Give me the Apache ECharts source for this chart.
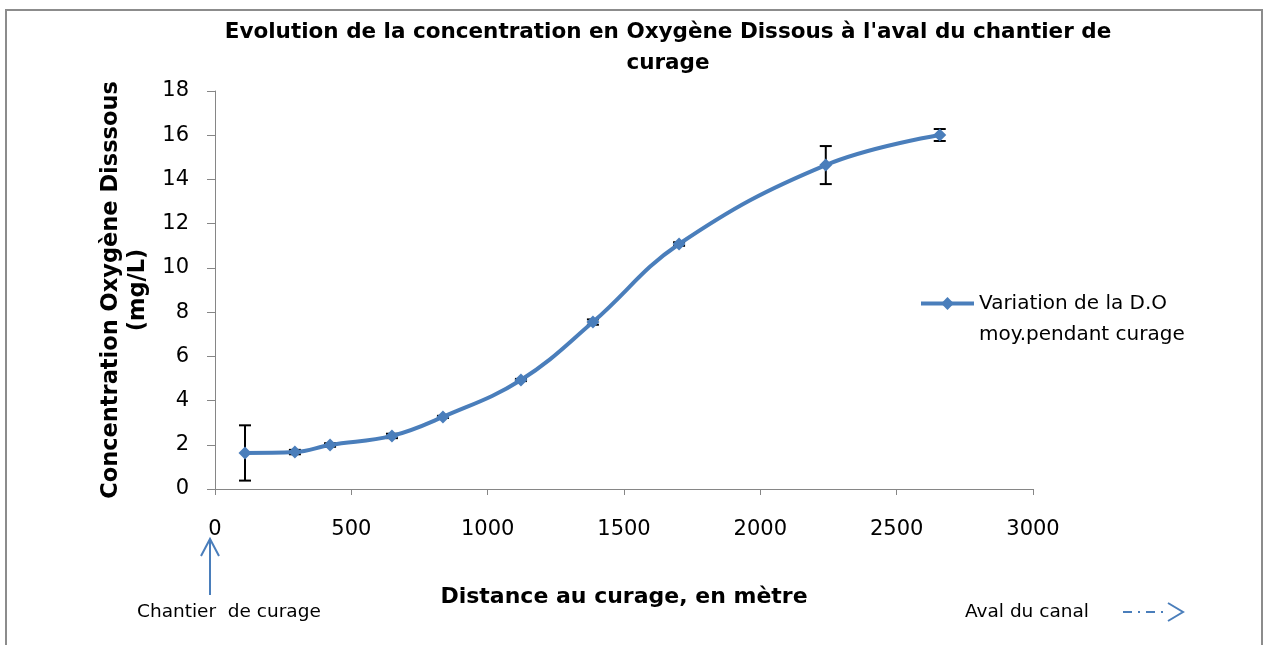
<!DOCTYPE html>
<html>
<head>
<meta charset="utf-8">
<script src="https://cdn.jsdelivr.net/npm/echarts@6/dist/echarts.min.js"></script>
<style>
html,body{margin:0;padding:0;background:#fff;}
#chart{width:1264px;height:645px;}
</style>
</head>
<body>
<div id="chart"></div>
<script>
// Data
const distances = [110, 293, 422, 649, 836, 1122, 1386, 1702, 2240, 2658];
const oxygen = [1.63, 1.67, 1.99, 2.40, 3.26, 4.93, 7.55, 11.08, 14.65, 16.01];
const errors = [1.25, 0.1, 0.08, 0.1, 0.05, 0.05, 0.12, 0.08, 0.86, 0.27];
const yTicks = [0, 2, 4, 6, 8, 10, 12, 14, 16, 18];
const xTicks = [0, 500, 1000, 1500, 2000, 2500, 3000];
const seriesName = 'Variation de la D.O moy.pendant curage';

const lineData = distances.map((d, i) => [d, oxygen[i]]);
const errData = distances.map((d, i) => [d, oxygen[i] - errors[i], oxygen[i] + errors[i]]);

const FONT = 'DejaVu Sans, Liberation Sans, sans-serif';
const BLUE = '#4a7ebb';

const chart = echarts.init(document.getElementById('chart'));
chart.setOption({
  backgroundColor: '#ffffff',
  animation: false,
  textStyle: { fontFamily: FONT },
  title: {
    text: "Evolution de la concentration en Oxygène Dissous à l'aval du chantier de\ncurage",
    left: 663,
    top: 12,
    textAlign: 'center',
    textStyle: { fontFamily: FONT, fontSize: 21.5, fontWeight: 'bold', color: '#000', lineHeight: 31 }
  },
  grid: { left: 215, right: 231, top: 91, bottom: 156, containLabel: false },
  legend: {
    data: [seriesName],
    left: 914,
    top: 252,
    itemWidth: 53,
    itemHeight: 16,
    lineStyle: { width: 4 },
    formatter: function () { return '\nVariation de la D.O\nmoy.pendant curage'; },
    textStyle: { fontFamily: FONT, fontSize: 20, color: '#000', lineHeight: 31 }
  },
  xAxis: {
    type: 'value',
    min: xTicks[0],
    max: xTicks[xTicks.length - 1],
    interval: 500,
    name: 'Distance au curage, en mètre',
    nameLocation: 'middle',
    nameGap: 97,
    nameTextStyle: { fontFamily: FONT, fontSize: 22, fontWeight: 'bold', color: '#000' },
    axisLine: { show: true, lineStyle: { color: '#868686', width: 1 } },
    axisTick: { show: true, length: 6, lineStyle: { color: '#868686' } },
    axisLabel: { fontFamily: FONT, fontSize: 21, color: '#000', margin: 30, formatter: function (v) { return String(v); } },
    splitLine: { show: false }
  },
  yAxis: {
    type: 'value',
    min: yTicks[0],
    max: yTicks[yTicks.length - 1],
    interval: 2,
    name: 'Concentration Oxygène Disssous\n(mg/L)',
    nameLocation: 'middle',
    nameGap: 62,
    nameTextStyle: { fontFamily: FONT, fontSize: 22.5, fontWeight: 'bold', color: '#000', lineHeight: 27 },
    axisLine: { show: true, lineStyle: { color: '#868686', width: 1 } },
    axisTick: { show: true, length: 8, lineStyle: { color: '#868686' } },
    axisLabel: { fontFamily: FONT, fontSize: 21, color: '#000', margin: 26 },
    splitLine: { show: false }
  },
  series: [
    {
      type: 'custom',
      name: 'errors',
      z: 1,
      silent: true,
      data: errData,
      encode: { x: 0, y: [1, 2] },
      renderItem: function (params, api) {
        const x = api.value(0);
        const lo = api.coord([x, api.value(1)]);
        const hi = api.coord([x, api.value(2)]);
        const cap = 6;
        const st = { stroke: '#000', lineWidth: 2 };
        return {
          type: 'group',
          children: [
            { type: 'line', shape: { x1: lo[0], y1: lo[1], x2: hi[0], y2: hi[1] }, style: st },
            { type: 'line', shape: { x1: lo[0] - cap, y1: lo[1], x2: lo[0] + cap, y2: lo[1] }, style: st },
            { type: 'line', shape: { x1: hi[0] - cap, y1: hi[1], x2: hi[0] + cap, y2: hi[1] }, style: st }
          ]
        };
      }
    },
    {
      type: 'line',
      name: seriesName,
      z: 2,
      data: lineData,
      smooth: 0.4,
      symbol: 'diamond',
      symbolSize: 13,
      lineStyle: { color: BLUE, width: 4 },
      itemStyle: { color: BLUE }
    }
  ],
  graphic: [
    { type: 'rect', silent: true, shape: { x: 6, y: 10, width: 1256, height: 700 },
      style: { fill: 'none', stroke: '#8c8c8c', lineWidth: 2 } },
    { type: 'line', silent: true, shape: { x1: 210, y1: 595, x2: 210, y2: 539 },
      style: { stroke: BLUE, lineWidth: 2 } },
    { type: 'polyline', silent: true, shape: { points: [[201, 556], [210, 539], [219, 556]] },
      style: { stroke: BLUE, lineWidth: 2, fill: 'none' } },
    { type: 'text', silent: true, x: 137, y: 612,
      style: { text: 'Chantier  de curage', fontFamily: FONT, fontSize: 18.5, fill: '#000', verticalAlign: 'middle' } },
    { type: 'text', silent: true, x: 965, y: 612,
      style: { text: 'Aval du canal', fontFamily: FONT, fontSize: 18.5, fill: '#000', verticalAlign: 'middle' } },
    { type: 'line', silent: true, shape: { x1: 1123, y1: 612, x2: 1163, y2: 612 },
      style: { stroke: BLUE, lineWidth: 2, lineDash: [9, 6, 2, 6] } },
    { type: 'polyline', silent: true, shape: { points: [[1168, 603], [1183, 612], [1168, 621]] },
      style: { stroke: BLUE, lineWidth: 2, fill: 'none' } }
  ]
});
</script>
</body>
</html>
